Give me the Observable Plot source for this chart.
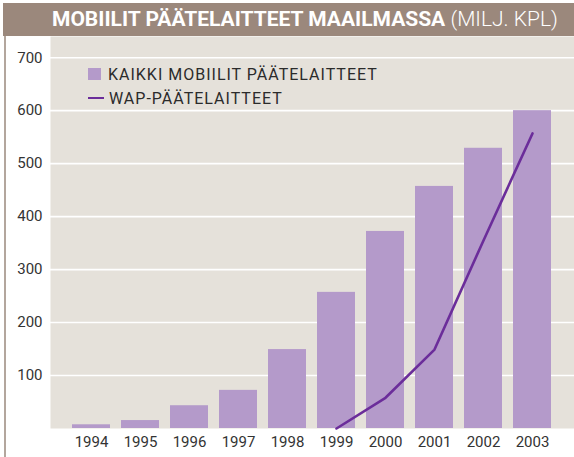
<!DOCTYPE html>
<html>
<head>
<meta charset="utf-8">
<script src="https://cdn.jsdelivr.net/npm/d3@7"></script>
<script src="https://cdn.jsdelivr.net/npm/@observablehq/plot@0.6"></script>
<style>
  body { margin: 0; background: #fff; }
  #wrap { position: relative; width: 574px; height: 457px; overflow: hidden; font-family: Roboto, sans-serif; }
  #title { position: absolute; left: 3px; top: 3px; width: 571px; height: 33px; background: #9b887c; color: #fff;
           font-size: 21px; line-height: 33px; padding-left: 49px; box-sizing: border-box; white-space: nowrap; }
  #title b { font-weight: 700; }
  #title span { font-weight: 300; }
  #border { position: absolute; left: 4px; top: 36px; width: 1.5px; height: 421px; background: #b3a69d; }
  #legend { position: absolute; left: 88px; top: 62px; font-size: 16px; letter-spacing: 1px; color: #2b2b2b; }
  .row { height: 24px; display: flex; align-items: center; }
  .sw { width: 13px; height: 12px; background: #b49aca; margin-right: 7px; }
  .ln { width: 16px; height: 2.5px; background: #6b2d9a; margin-right: 5px; }
  #chart { position: absolute; left: 0; top: 0; }
</style>
</head>
<body>
<div id="wrap">
  <div id="chart"></div>
  <div id="title"><b>MOBIILIT PÄÄTELAITTEET MAAILMASSA</b> <span>(MILJ. KPL)</span></div>
  <div id="border"></div>
  <div id="legend">
    <div class="row"><div class="sw"></div>KAIKKI MOBIILIT PÄÄTELAITTEET</div>
    <div class="row"><div class="ln"></div>WAP-PÄÄTELAITTEET</div>
  </div>
</div>
<script>
const years = ["1994","1995","1996","1997","1998","1999","2000","2001","2002","2003"];
const allDevices = [7, 15, 43, 72, 149, 257, 372, 457, 529, 600];
const wapYears = ["1999","2000","2001","2002","2003"];
const wapDevices = [0, 58, 149, 355, 557];
const yTicks = [100, 200, 300, 400, 500, 600, 700];

const bars = years.map((y, i) => ({year: y, value: allDevices[i]}));
const wap = wapYears.map((y, i) => ({year: y, value: wapDevices[i]}));

const chart = Plot.plot({
  width: 574,
  height: 457,
  marginTop: 36,
  marginBottom: 29,
  marginLeft: 50,
  marginRight: 0,
  style: {fontFamily: "Roboto, sans-serif", fontSize: "15px", color: "#333", background: "transparent"},
  x: {type: "band", domain: years, paddingInner: 0.22, paddingOuter: 0.45, label: null},
  y: {domain: [0, 740], label: null},
  marks: [
    Plot.frame({fill: "#e5e1da", stroke: null}),
    Plot.ruleY(yTicks, {stroke: "#fff", strokeWidth: 1.6}),
    Plot.barY(bars, {x: "year", y: "value", fill: "#b49aca"}),
    Plot.line(wap, {x: "year", y: "value", stroke: "#6b2d9a", strokeWidth: 2.6}),
    Plot.axisY({ticks: yTicks, tickSize: 0, tickPadding: 8, label: null, fill: "#333"}),
    Plot.axisX({tickSize: 0, tickPadding: 8, label: null, fill: "#333"})
  ]
});
document.getElementById("chart").appendChild(chart);
</script>
</body>
</html>
